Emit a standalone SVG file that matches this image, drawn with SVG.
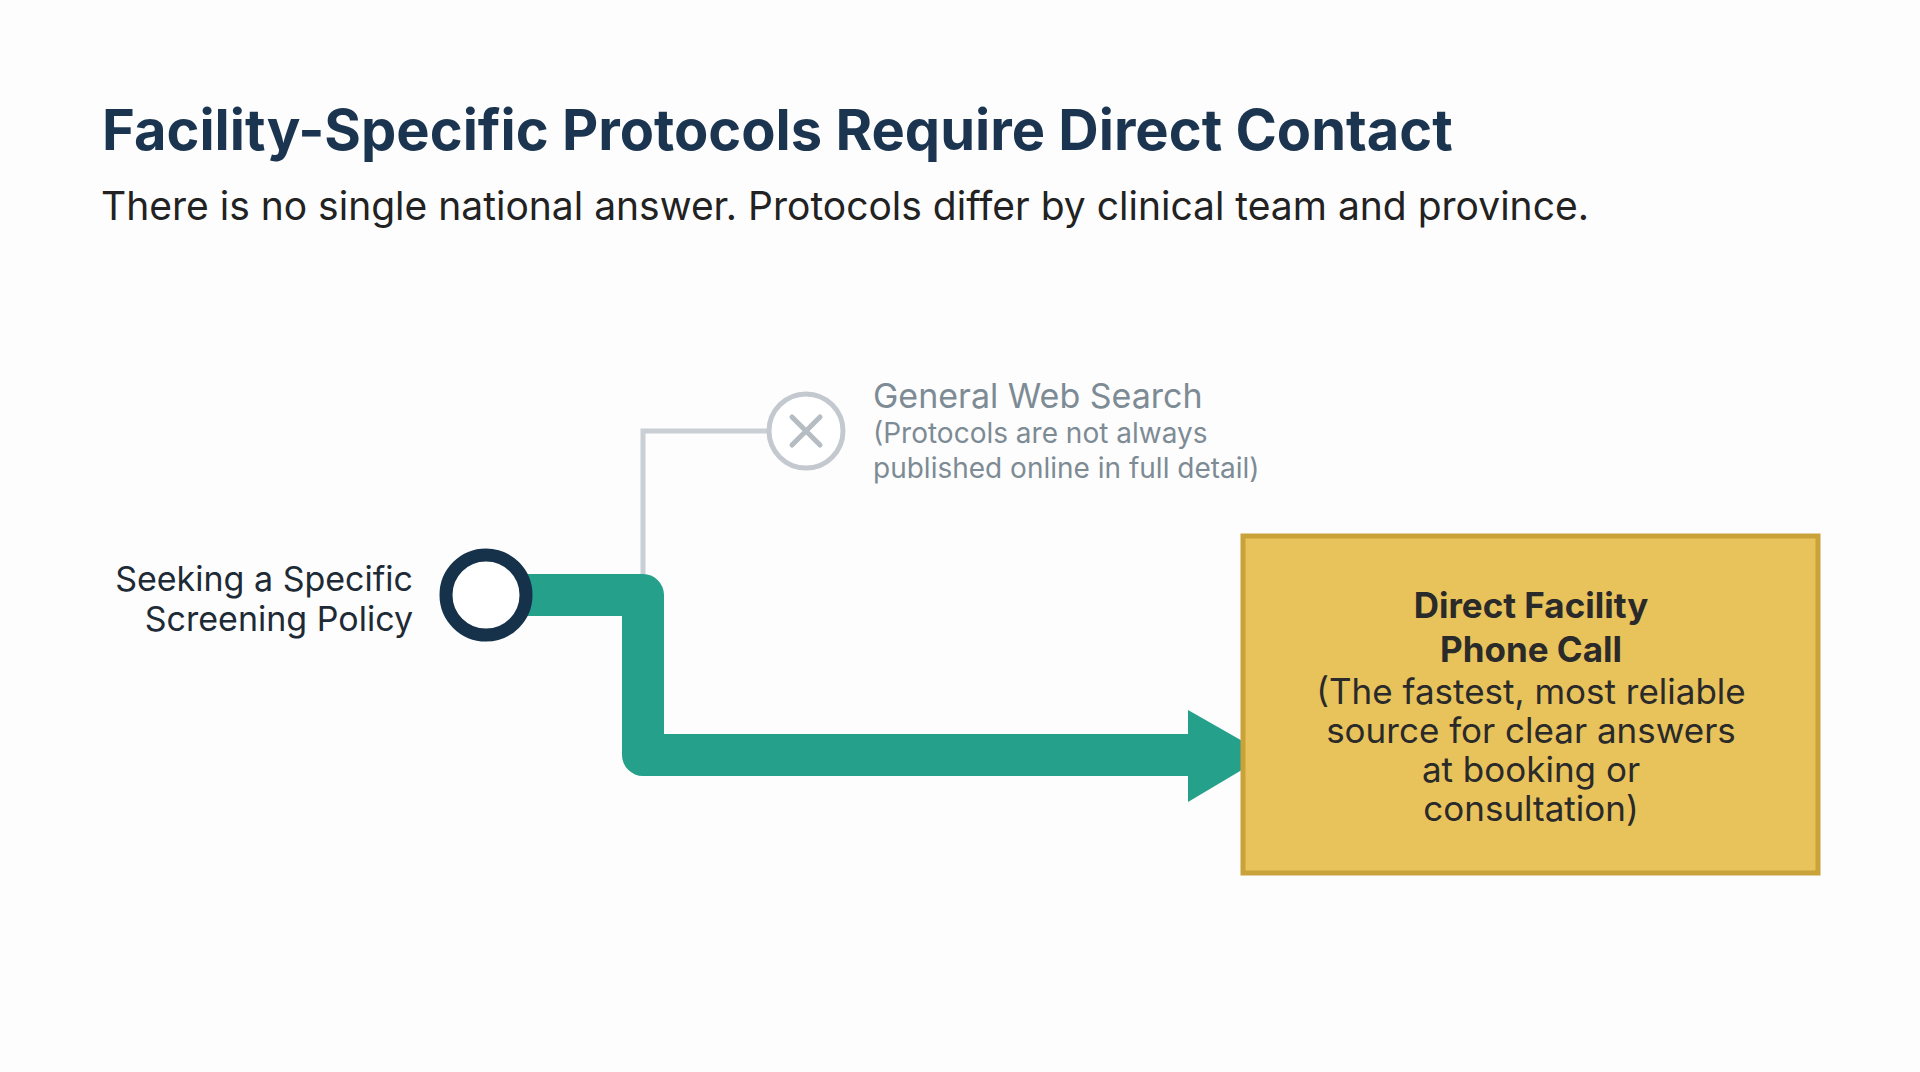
<svg xmlns="http://www.w3.org/2000/svg" width="1920" height="1072" viewBox="0 0 1920 1072">
<style>
text{font-family:"Inter","Liberation Sans",sans-serif}
.lbl{font-size:34px;fill:#1e2a35}
.g{fill:#7d8b95}
.bt{font-size:35px;fill:#2a2a2a;text-anchor:middle}
</style>
<rect width="1920" height="1072" fill="#fdfdfd"/>
<text x="102" y="150" font-size="56" font-weight="700" fill="#1b3550">Facility-Specific Protocols Require Direct Contact</text>
<text x="101" y="220" font-size="39" fill="#222">There is no single national answer. Protocols differ by clinical team and province.</text>
<g id="connectors">
<polyline points="643,575 643,431 768,431" fill="none" stroke="#c9cfd4" stroke-width="5"/>
<path d="M527,595 H643 V755 H1192" fill="none" stroke="#25a08a" stroke-width="42" stroke-linejoin="round"/>
<polygon points="1188,710 1267,755 1188,802" fill="#25a08a"/>
</g>
<g id="start">
<circle cx="486" cy="595" r="40" fill="#fff" stroke="#16324a" stroke-width="13"/>
<text class="lbl" x="413" y="591" text-anchor="end">Seeking a Specific</text>
<text class="lbl" x="413" y="631" text-anchor="end">Screening Policy</text>
</g>
<g id="web">
<circle cx="806" cy="431" r="37" fill="#fff" stroke="#c3c9ce" stroke-width="5"/>
<path d="M792,417 L820,445 M820,417 L792,445" stroke="#b5bcc2" stroke-width="5" stroke-linecap="round"/>
<text class="g" x="873" y="408" font-size="34">General Web Search</text>
<text class="g" x="873" y="443" font-size="28">(Protocols are not always</text>
<text class="g" x="873" y="478" font-size="28">published online in full detail)</text>
</g>
<g id="call">
<rect x="1243" y="536" width="575" height="337" fill="#e8c25a" stroke="#c9a23a" stroke-width="5"/>
<text class="bt" x="1531" y="618" font-size="39" font-weight="700" fill="#1e1e1e">Direct Facility</text>
<text class="bt" x="1531" y="662" font-size="39" font-weight="700" fill="#1e1e1e">Phone Call</text>
<text class="bt" x="1531" y="704">(The fastest, most reliable</text>
<text class="bt" x="1531" y="743">source for clear answers</text>
<text class="bt" x="1531" y="782">at booking or</text>
<text class="bt" x="1531" y="821">consultation)</text>
</g>
</svg>
